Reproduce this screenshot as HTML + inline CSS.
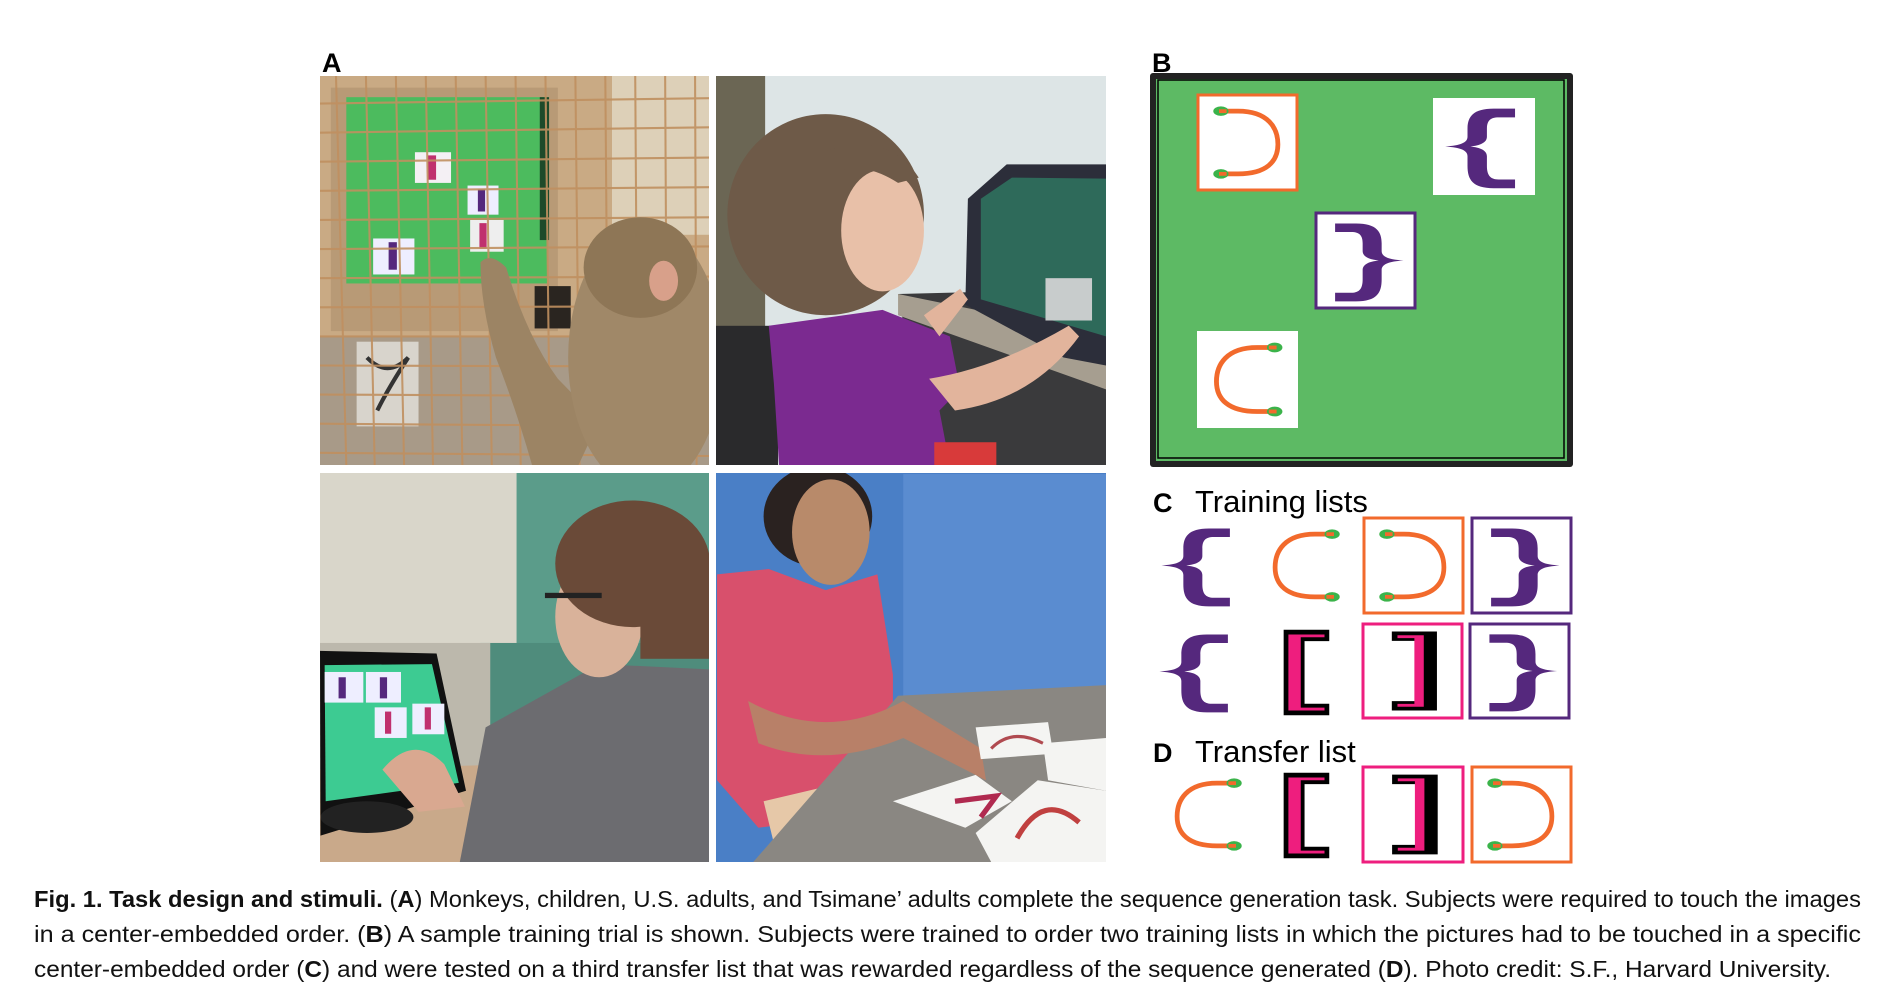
<!DOCTYPE html>
<html><head><meta charset="utf-8"><style>
html,body{margin:0;padding:0;background:#fff;}
svg{display:block;}
</style></head><body>
<svg width="1882" height="998" viewBox="0 0 1882 998" xmlns="http://www.w3.org/2000/svg">
<defs>
<symbol id="lb" viewBox="0 0 100 100">
<path fill="#55287d" d="M82,11 H60 C38,11 33,20 33,32 V40 C33,46 26,49 10,50 C26,51 33,54 33,60 V70 C33,84 38,93 60,93 H82 V84 H65 C56,84 53,79 53,70 V60 C53,54 46,51 36,50 C46,49 53,46 53,40 V32 C53,24 56,20 65,20 H82 Z"/>
</symbol>
<symbol id="rb" viewBox="0 0 100 100">
<g transform="translate(100,0) scale(-1,1)"><path fill="#55287d" d="M82,11 H60 C38,11 33,20 33,32 V40 C33,46 26,49 10,50 C26,51 33,54 33,60 V70 C33,84 38,93 60,93 H82 V84 H65 C56,84 53,79 53,70 V60 C53,54 46,51 36,50 C46,49 53,46 53,40 V32 C53,24 56,20 65,20 H82 Z"/></g>
</symbol>
<symbol id="co" viewBox="0 0 100 100">
<path d="M78,17 H60 C28,17 18,35 18,52 C18,70 30,83 60,83 H78" fill="none" stroke="#f26a2c" stroke-width="5" stroke-linecap="round"/>
<ellipse cx="78" cy="17" rx="8" ry="5" fill="#3bb34a"/><ellipse cx="78" cy="83" rx="8" ry="5" fill="#3bb34a"/>
<rect x="72" y="15" width="8" height="4" fill="#f26a2c"/><rect x="72" y="81" width="8" height="4" fill="#f26a2c"/>
</symbol>
<symbol id="cc" viewBox="0 0 100 100">
<g transform="translate(100,0) scale(-1,1)">
<path d="M78,17 H60 C28,17 18,35 18,52 C18,70 30,83 60,83 H78" fill="none" stroke="#f26a2c" stroke-width="5" stroke-linecap="round"/>
<ellipse cx="78" cy="17" rx="8" ry="5" fill="#3bb34a"/><ellipse cx="78" cy="83" rx="8" ry="5" fill="#3bb34a"/>
<rect x="72" y="15" width="8" height="4" fill="#f26a2c"/><rect x="72" y="81" width="8" height="4" fill="#f26a2c"/></g>
</symbol>
<symbol id="lk" viewBox="0 0 100 100">
<path fill="#000" d="M27,6 H75 V18 H49 V84 H75 V96 H27 Z"/>
<path fill="#ee1e7e" d="M32,11 H70 V14 H45 V88 H70 V91 H32 Z"/>
</symbol>
<symbol id="rk" viewBox="0 0 100 100">
<path fill="#000" d="M28,8 H76 V92 H28 V82 H56 V18 H28 Z"/>
<path fill="#ee1e7e" d="M34,12 H62 V88 H34 V85 H52 V15 H34 Z"/>
</symbol>
</defs>

<!-- A photos -->
<text x="322" y="72" font-family="Liberation Sans, sans-serif" font-weight="bold" font-size="27">A</text>

<svg x="320" y="76" width="389" height="389" viewBox="19 68 754 735" preserveAspectRatio="none">
<rect x="19" y="68" width="754" height="735" fill="#c9aa84"/>
<rect x="585" y="68" width="188" height="300" fill="#ddd0b8"/>
<rect x="40" y="90" width="440" height="460" fill="#b89a76"/>
<rect x="19" y="560" width="754" height="243" fill="#a89a88"/>
<rect x="90" y="570" width="120" height="160" fill="#d8d4cc"/>
<path d="M110,600 q40,40 80,0 q-40,60 -60,100" stroke="#333" stroke-width="8" fill="none"/>
<rect x="70" y="108" width="390" height="352" fill="#4cbb5e"/>
<rect x="445" y="108" width="18" height="270" fill="#1d4a2a"/>
<rect x="435" y="465" width="70" height="80" fill="#2a2520"/>
<rect x="203" y="212" width="70" height="58" fill="#f4f0f4"/><rect x="228" y="218" width="16" height="46" fill="#c0306e"/>
<rect x="305" y="275" width="60" height="55" fill="#eef"/><rect x="325" y="282" width="14" height="42" fill="#55287d"/>
<rect x="310" y="340" width="65" height="60" fill="#eee"/><rect x="328" y="346" width="14" height="48" fill="#c0306e"/>
<rect x="122" y="375" width="80" height="68" fill="#eef"/><rect x="152" y="382" width="16" height="52" fill="#55287d"/>
<g stroke="#c09060" stroke-width="4" opacity="0.9">
<line x1="19" y1="120" x2="773" y2="110"/><line x1="19" y1="175" x2="773" y2="165"/><line x1="19" y1="230" x2="773" y2="222"/><line x1="19" y1="285" x2="773" y2="278"/><line x1="19" y1="340" x2="773" y2="335"/><line x1="19" y1="395" x2="773" y2="390"/><line x1="19" y1="450" x2="773" y2="447"/><line x1="19" y1="505" x2="773" y2="503"/><line x1="19" y1="560" x2="773" y2="560"/><line x1="19" y1="615" x2="773" y2="617"/><line x1="19" y1="670" x2="773" y2="673"/><line x1="19" y1="725" x2="773" y2="730"/><line x1="19" y1="780" x2="773" y2="786"/>
<line x1="50" y1="68" x2="70" y2="803"/><line x1="108" y1="68" x2="125" y2="803"/><line x1="166" y1="68" x2="182" y2="803"/><line x1="224" y1="68" x2="238" y2="803"/><line x1="282" y1="68" x2="295" y2="803"/><line x1="340" y1="68" x2="352" y2="803"/><line x1="398" y1="68" x2="408" y2="803"/><line x1="456" y1="68" x2="465" y2="803"/><line x1="514" y1="68" x2="522" y2="803"/><line x1="572" y1="68" x2="578" y2="803"/><line x1="630" y1="68" x2="635" y2="803"/><line x1="688" y1="68" x2="692" y2="803"/><line x1="746" y1="68" x2="749" y2="803"/>
</g>
<path d="M330,420 Q350,400 380,430 Q420,560 480,640 L560,720 L520,803 L430,803 Q400,700 360,600 Q330,500 330,420 Z" fill="#9c8464"/>
<ellipse cx="650" cy="600" rx="150" ry="250" fill="#a08868"/>
<ellipse cx="640" cy="430" rx="110" ry="95" fill="#8e7656"/>
<ellipse cx="685" cy="455" rx="28" ry="38" fill="#d8a08a"/>
</svg>

<svg x="716" y="76" width="390" height="389" viewBox="788 68 754 735" preserveAspectRatio="none">
<rect x="788" y="68" width="754" height="735" fill="#dde5e6"/>
<rect x="788" y="68" width="95" height="735" fill="#6b6654"/>
<rect x="788" y="540" width="120" height="263" fill="#2a2a2c"/>
<polygon points="1140,480 1542,470 1542,803 1200,803" fill="#3a3a3c"/>
<polygon points="1140,480 1542,560 1542,660 1140,520" fill="#a69e90"/>
<polygon points="1275,300 1350,235 1542,235 1542,615 1460,600 1270,500" fill="#2c2e3a"/>
<polygon points="1300,300 1360,260 1542,262 1542,560 1300,490" fill="#2e6a5a"/>
<rect x="1425" y="450" width="90" height="80" fill="#c8cccc"/>
<ellipse cx="1000" cy="330" rx="190" ry="190" fill="#6e5a48"/>
<ellipse cx="1110" cy="360" rx="80" ry="115" fill="#e8c0a8"/>
<path d="M1000,210 Q1120,170 1180,260 L1140,270 Q1060,220 1000,260 Z" fill="#6e5a48"/>
<polygon points="890,540 1110,510 1240,560 1260,660 1220,700 1240,803 910,803 900,650" fill="#7b2a90"/>
<path d="M1200,640 Q1330,620 1470,540 L1490,560 Q1400,680 1250,700 Z" fill="#e2b49c"/>
<path d="M1190,520 L1260,470 L1275,490 L1220,560 Z" fill="#e2b49c"/>
<rect x="1210" y="760" width="120" height="43" fill="#d83a3a"/>
</svg>

<svg x="320" y="473" width="389" height="389" viewBox="19 818 754 737" preserveAspectRatio="none">
<rect x="19" y="818" width="754" height="737" fill="#d9d6ca"/>
<rect x="400" y="818" width="373" height="737" fill="#5b9c8a"/>
<rect x="330" y="1140" width="443" height="415" fill="#4f8c7c"/>
<rect x="19" y="1140" width="330" height="240" fill="#bcb8ac"/>
<polygon points="19,1380 773,1360 773,1555 19,1555" fill="#c9a98a"/>
<polygon points="19,1155 245,1160 302,1420 20,1505" fill="#111"/>
<polygon points="28,1182 236,1180 288,1405 30,1440" fill="#3dcb92"/>
<ellipse cx="110" cy="1470" rx="90" ry="30" fill="#222"/>
<rect x="28" y="1195" width="75" height="58" fill="#eef"/><rect x="108" y="1195" width="68" height="58" fill="#eef"/>
<rect x="125" y="1262" width="62" height="58" fill="#eef"/><rect x="198" y="1255" width="62" height="58" fill="#eef"/>
<rect x="55" y="1205" width="14" height="40" fill="#55287d"/><rect x="135" y="1205" width="14" height="40" fill="#55287d"/>
<rect x="145" y="1270" width="12" height="42" fill="#c0306e"/><rect x="222" y="1262" width="12" height="42" fill="#c0306e"/>
<polygon points="340,1300 560,1180 773,1190 773,1555 290,1555" fill="#6c6c70"/>
<ellipse cx="560" cy="1090" rx="85" ry="115" fill="#d9b29a"/>
<ellipse cx="625" cy="990" rx="150" ry="120" fill="#6a4a38"/>
<rect x="640" y="1000" width="133" height="170" fill="#6a4a38"/>
<rect x="455" y="1045" width="110" height="10" fill="#222"/>
<path d="M140,1380 Q200,1310 260,1370 L300,1450 L210,1460 Z" fill="#d9a890"/>
</svg>

<svg x="716" y="473" width="390" height="389" viewBox="788 818 754 737" preserveAspectRatio="none">
<rect x="788" y="818" width="754" height="737" fill="#4a7fc6"/>
<rect x="1150" y="820" width="392" height="460" fill="#5a8cd0"/>
<ellipse cx="985" cy="900" rx="105" ry="95" fill="#2a2220"/>
<ellipse cx="1010" cy="930" rx="75" ry="100" fill="#b88a6a"/>
<polygon points="790,1010 890,1000 1000,1040 1100,1010 1130,1200 1130,1460 870,1490 790,1400" fill="#d8506c"/>
<polygon points="880,1440 1140,1380 1160,1470 900,1520" fill="#e6c8a8"/>
<polygon points="860,1555 1140,1240 1542,1220 1542,1555" fill="#8a8782"/>
<path d="M850,1250 Q1000,1330 1150,1250 L1300,1340 L1310,1400 L1150,1320 Q1000,1380 870,1330 Z" fill="#b88068"/>
<polygon points="1290,1300 1430,1290 1440,1350 1300,1360" fill="#f4f4f2"/>
<polygon points="1420,1330 1542,1320 1542,1420 1430,1400" fill="#f4f4f2"/>
<polygon points="1130,1440 1290,1390 1360,1440 1270,1490" fill="#f4f4f2"/>
<polygon points="1290,1500 1410,1400 1542,1420 1542,1555 1320,1555" fill="#f4f4f2"/>
<path d="M1370,1510 Q1420,1420 1490,1480" stroke="#c04040" stroke-width="10" fill="none"/>
<path d="M1320,1340 Q1360,1300 1420,1330" stroke="#b04a50" stroke-width="6" fill="none"/>
<path d="M1250,1440 L1330,1430 L1300,1470" stroke="#b02a50" stroke-width="10" fill="none"/>
</svg>

<!-- B -->
<text x="1152" y="72" font-family="Liberation Sans, sans-serif" font-weight="bold" font-size="27">B</text>
<rect x="1150" y="73" width="423" height="394" rx="3" fill="#222"/>
<rect x="1156" y="79" width="411" height="382" fill="#5dba64"/>
<rect x="1158" y="80" width="406" height="378" fill="none" stroke="#000" stroke-width="1.5"/>
<rect x="1198" y="95" width="99" height="95" fill="#fff" stroke="#f26a2c" stroke-width="3"/>
<use href="#cc" x="1198" y="95" width="99" height="95"/>
<rect x="1433" y="98" width="102" height="97" fill="#fff"/>
<use href="#lb" x="1433" y="98" width="102" height="97"/>
<rect x="1316" y="213" width="99" height="95" fill="#fff" stroke="#55287d" stroke-width="3"/>
<use href="#rb" x="1316" y="213" width="99" height="95"/>
<rect x="1197" y="331" width="101" height="97" fill="#fff"/>
<use href="#co" x="1197" y="331" width="101" height="97"/>

<!-- C -->
<text x="1153" y="512" font-family="Liberation Sans, sans-serif" font-weight="bold" font-size="27">C</text>
<text x="1195" y="512" font-family="Liberation Sans, sans-serif" font-size="31">Training lists</text>
<use href="#lb" x="1152" y="517" width="95" height="97"/>
<use href="#co" x="1258" y="517" width="95" height="97"/>
<rect x="1364" y="518" width="99" height="95" fill="#fff" stroke="#f26a2c" stroke-width="3"/>
<use href="#cc" x="1364" y="518" width="99" height="95"/>
<rect x="1472" y="518" width="99" height="95" fill="#fff" stroke="#55287d" stroke-width="3"/>
<use href="#rb" x="1472" y="518" width="99" height="95"/>

<use href="#lb" x="1150" y="623" width="95" height="97"/>
<use href="#lk" x="1258" y="623" width="95" height="97"/>
<rect x="1363" y="624" width="99" height="94" fill="#fff" stroke="#ee1e7e" stroke-width="3"/>
<use href="#rk" x="1363" y="624" width="99" height="94"/>
<rect x="1470" y="624" width="99" height="94" fill="#fff" stroke="#55287d" stroke-width="3"/>
<use href="#rb" x="1470" y="624" width="99" height="94"/>

<!-- D -->
<text x="1153" y="762" font-family="Liberation Sans, sans-serif" font-weight="bold" font-size="27">D</text>
<text x="1195" y="762" font-family="Liberation Sans, sans-serif" font-size="31">Transfer list</text>
<use href="#co" x="1160" y="766" width="95" height="97"/>
<use href="#lk" x="1258" y="766" width="95" height="97"/>
<rect x="1363" y="767" width="100" height="95" fill="#fff" stroke="#ee1e7e" stroke-width="3"/>
<use href="#rk" x="1363" y="767" width="100" height="95"/>
<rect x="1472" y="767" width="99" height="95" fill="#fff" stroke="#f26a2c" stroke-width="3"/>
<use href="#cc" x="1472" y="767" width="99" height="95"/>

<!-- caption -->
<g font-family="Liberation Sans, sans-serif" font-size="23" fill="#111">
<text x="34" y="907" textLength="1827" lengthAdjust="spacingAndGlyphs"><tspan font-weight="bold">Fig. 1. Task design and stimuli.</tspan> (<tspan font-weight="bold">A</tspan>) Monkeys, children, U.S. adults, and Tsimane’ adults complete the sequence generation task. Subjects were required to touch the images</text>
<text x="34" y="942" textLength="1827" lengthAdjust="spacingAndGlyphs">in a center-embedded order. (<tspan font-weight="bold">B</tspan>) A sample training trial is shown. Subjects were trained to order two training lists in which the pictures had to be touched in a specific</text>
<text x="34" y="977" textLength="1797" lengthAdjust="spacingAndGlyphs">center-embedded order (<tspan font-weight="bold">C</tspan>) and were tested on a third transfer list that was rewarded regardless of the sequence generated (<tspan font-weight="bold">D</tspan>). Photo credit: S.F., Harvard University.</text>
</g>
</svg>
</body></html>
